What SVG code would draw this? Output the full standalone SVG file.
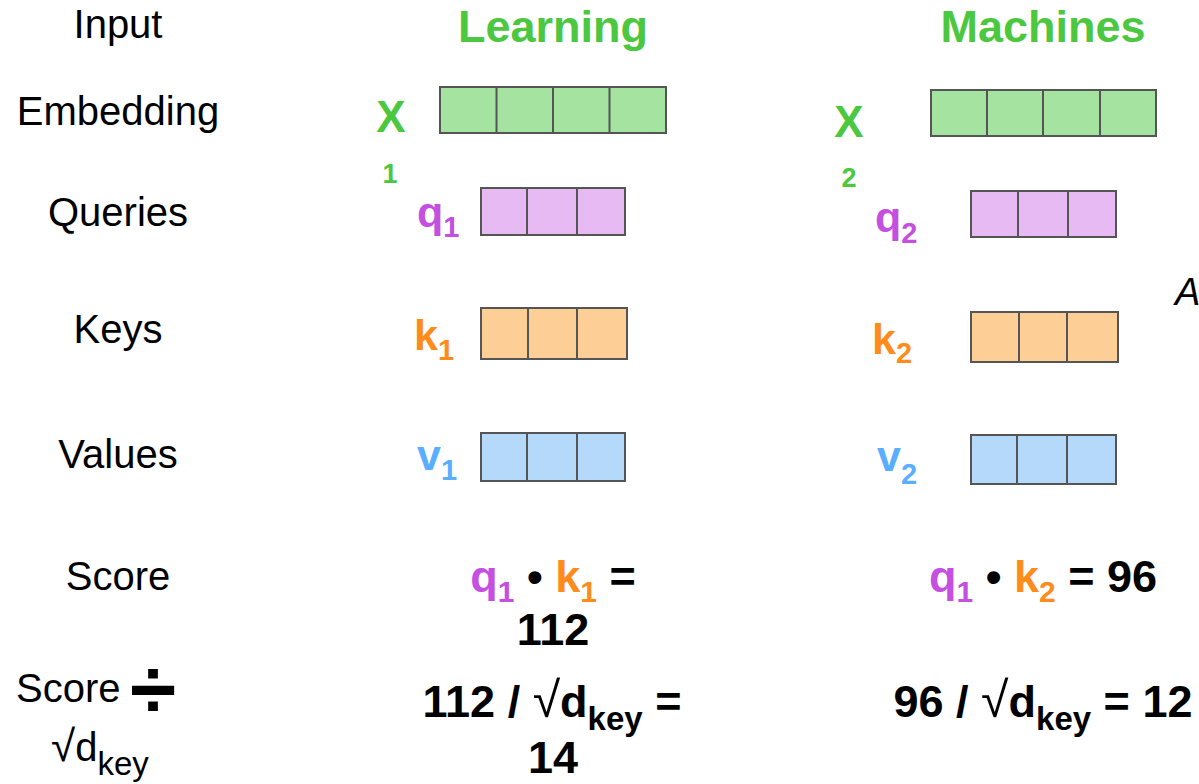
<svg xmlns="http://www.w3.org/2000/svg" width="1199" height="784" viewBox="0 0 1199 784">
<style>
text{font-family:"Liberation Sans",Arial,sans-serif}
.lab{font-size:40px;fill:#000;text-anchor:middle}
.head{font-size:45px;font-weight:bold;fill:#4bc840;text-anchor:middle}
.b{font-weight:bold}
.g{fill:#4bc840}.p{fill:#c44fe0}.o{fill:#ff8c1a}.bl{fill:#5aaeff}.k{fill:#000}
.cell{stroke:#555;stroke-width:2}
.fg{fill:#a4e4a0}.fp{fill:#e8baf3}.fo{fill:#fdcf97}.fb{fill:#b4d9fb}
.div{stroke:#555;stroke-width:2}
.var{font-size:43px;font-weight:bold}
.sub{font-size:29px}
.eq{font-size:45px;font-weight:bold;text-anchor:middle;fill:#000}
.es{font-size:30px}
</style>
<g id="labels">
<text class="lab" x="118" y="38">Input</text>
<text class="lab" x="118" y="125">Embedding</text>
<text class="lab" x="118" y="226">Queries</text>
<text class="lab" x="118" y="343">Keys</text>
<text class="lab" x="118" y="468">Values</text>
<text class="lab" x="118" y="590">Score</text>
<text x="16" y="702" style="font-size:40px">Score</text>
<text x="130" y="718" style="font-size:84px;font-weight:bold">÷</text>
<text x="100" y="761" style="font-size:40px;text-anchor:middle"><tspan style="font-size:44px">√</tspan>d<tspan dy="14" style="font-size:33px">key</tspan></text>
</g>
<g id="heading-learning"><text class="head" x="553" y="42">Learning</text></g>
<g id="heading-machines"><text class="head" x="1043" y="42">Machines</text></g>
<g id="x1">
<text class="g b" x="391" y="132" style="font-size:44px;text-anchor:middle">X</text>
<text class="g b" x="390" y="183" style="font-size:27px;text-anchor:middle">1</text>
<rect class="cell fg" x="440" y="87" width="226" height="46"/>
<path class="div" d="M496.5 87V133M553 87V133M609.5 87V133"/>
</g>
<g id="x2">
<text class="g b" x="849" y="137" style="font-size:44px;text-anchor:middle">X</text>
<text class="g b" x="849" y="187" style="font-size:27px;text-anchor:middle">2</text>
<rect class="cell fg" x="931" y="90" width="225" height="46"/>
<path class="div" d="M987 90V136M1043 90V136M1100 90V136"/>
</g>
<g id="q1">
<text class="var p" x="417" y="227">q<tspan class="sub" dy="10">1</tspan></text>
<rect class="cell fp" x="481" y="188" width="144" height="47"/>
<path class="div" d="M527 188V235M577 188V235"/>
</g>
<g id="q2">
<text class="var p" x="875" y="232">q<tspan class="sub" dy="11">2</tspan></text>
<rect class="cell fp" x="971" y="191" width="145" height="46"/>
<path class="div" d="M1018 191V237M1068 191V237"/>
</g>
<g id="k1">
<text class="var o" x="414" y="350">k<tspan class="sub" dy="10">1</tspan></text>
<rect class="cell fo" x="481" y="308" width="146" height="51"/>
<path class="div" d="M528 308V359M577 308V359"/>
</g>
<g id="k2">
<text class="var o" x="872" y="354">k<tspan class="sub" dy="9">2</tspan></text>
<rect class="cell fo" x="971" y="312" width="147" height="50"/>
<path class="div" d="M1019 312V362M1067 312V362"/>
</g>
<g id="v1">
<text class="var bl" x="417" y="470">v<tspan class="sub" dy="10">1</tspan></text>
<rect class="cell fb" x="481" y="433" width="144" height="48"/>
<path class="div" d="M527 433V481M577 433V481"/>
</g>
<g id="v2">
<text class="var bl" x="877" y="471">v<tspan class="sub" dy="13">2</tspan></text>
<rect class="cell fb" x="971" y="435" width="145" height="49"/>
<path class="div" d="M1017 435V484M1067 435V484"/>
</g>
<g id="score1">
<text class="eq" x="553" y="592"><tspan class="p">q</tspan><tspan class="p es" dy="10">1</tspan><tspan dy="-10"> • </tspan><tspan class="o">k</tspan><tspan class="o es" dy="10">1</tspan><tspan dy="-10"> =</tspan></text>
<text class="eq" x="553" y="645">112</text>
</g>
<g id="scaled1">
<text class="eq" x="552" y="717">112 / <tspan style="font-weight:normal;font-size:50px">√</tspan>d<tspan style="font-size:33px" dy="13">key</tspan><tspan dy="-13"> =</tspan></text>
<text class="eq" x="553" y="773">14</text>
</g>
<g id="score2">
<text class="eq" x="1043" y="592"><tspan class="p">q</tspan><tspan class="p es" dy="10">1</tspan><tspan dy="-10"> • </tspan><tspan class="o">k</tspan><tspan class="o es" dy="10">2</tspan><tspan dy="-10"> = 96</tspan></text>
</g>
<g id="scaled2">
<text class="eq" x="1043" y="717">96 / <tspan style="font-weight:normal;font-size:50px">√</tspan>d<tspan style="font-size:33px" dy="13">key</tspan><tspan dy="-13"> = 12</tspan></text>
</g>
<g id="clipped-a"><text x="1175" y="305" style="font-size:38px;font-style:italic">A</text></g>
<g id="connectors"></g>
</svg>
